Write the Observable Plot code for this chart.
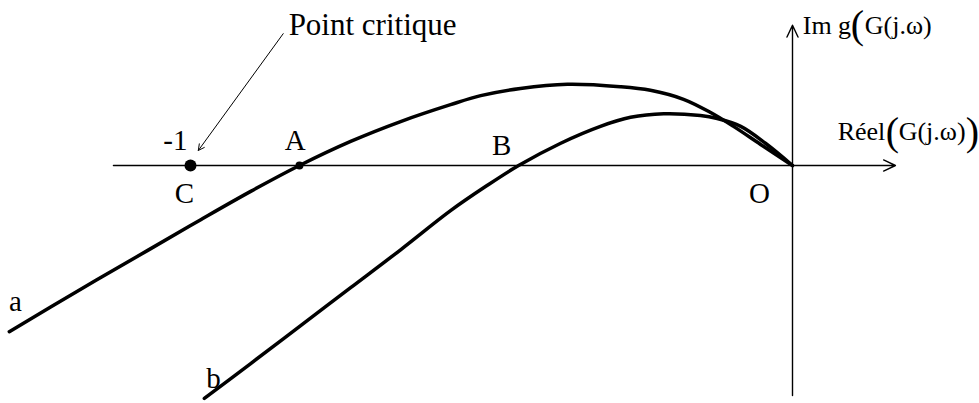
<!DOCTYPE html>
<html>
<head>
<meta charset="utf-8">
<script src="https://cdn.jsdelivr.net/npm/d3@7"></script>
<script src="https://cdn.jsdelivr.net/npm/@observablehq/plot@0.6"></script>
<style>
  html, body { margin: 0; padding: 0; background: #fff; }
  #chart svg { display: block; }
  #chart svg text { font-family: "Liberation Serif", "Times New Roman", serif !important; }
</style>
</head>
<body>
<div id="chart"></div>
<script>
// Nyquist sketch of two open-loop transfer functions G(jω), unit = distance O→C (-1)

// Curve a: crosses the real axis at A, to the right of the critical point
const curveAx = [-1.301, -1.183, -1.071, -0.983, -0.900, -0.819, -0.734, -0.651, -0.568, -0.518, -0.452, -0.374, -0.286, -0.236, -0.181, -0.136, -0.098, -0.053, 0];
const curveAy = [-0.276, -0.206, -0.141, -0.090, -0.043, 0, 0.040, 0.073, 0.101, 0.116, 0.128, 0.135, 0.131, 0.125, 0.110, 0.088, 0.065, 0.035, 0];

// Curve b: crosses the real axis at B, closer to the origin
const curveBx = [-0.977, -0.900, -0.817, -0.734, -0.651, -0.568, -0.510, -0.455, -0.385, -0.319, -0.269, -0.214, -0.153, -0.125, -0.086, -0.045, 0];
const curveBy = [-0.387, -0.329, -0.266, -0.203, -0.140, -0.075, -0.035, 0, 0.037, 0.065, 0.080, 0.086, 0.083, 0.078, 0.065, 0.037, 0];

// Marked points on the real axis: critical point C (-1) and crossing A
const criticalRe = -1;
const crossingARe = -0.819;

// Axis extents
const realAxis = [-1.128, 0.171];
const imagAxis = [-0.382, 0.233];

const toRows = (xs, ys) => xs.map((x, i) => ({x, y: ys[i]}));
const curveA = toRows(curveAx, curveAy);
const curveB = toRows(curveBx, curveBy);

const lbl = (text, x, y, opts = {}) =>
  Plot.text([{x, y}], {x: "x", y: "y", text: () => text, fontSize: 29,
    lineAnchor: "bottom", fill: "#000", ...opts});

const chart = Plot.plot({
  width: 979,
  height: 403,
  margin: 0,
  x: {domain: [-792 / 602, 187 / 602], axis: null},
  y: {domain: [-238 / 602, 165 / 602], axis: null},
  style: {background: "#fff"},
  marks: [
    // real and imaginary axes
    Plot.arrow([{x1: realAxis[0], x2: realAxis[1]}], {x1: "x1", x2: "x2", y1: 0, y2: 0,
      stroke: "#000", strokeWidth: 1.4, headLength: 14, headAngle: 50}),
    Plot.arrow([{y1: imagAxis[0], y2: imagAxis[1]}], {x1: 0, x2: 0, y1: "y1", y2: "y2",
      stroke: "#000", strokeWidth: 1.4, headLength: 14, headAngle: 50}),
    // the two Nyquist loci
    Plot.line(curveA, {x: "x", y: "y", curve: "catmull-rom", stroke: "#000", strokeWidth: 3.5}),
    Plot.line(curveB, {x: "x", y: "y", curve: "catmull-rom", stroke: "#000", strokeWidth: 3.5}),
    // critical point C and crossing A
    Plot.dot([{x: criticalRe, y: 0}], {x: "x", y: "y", r: 6, fill: "#000", stroke: null}),
    Plot.dot([{x: crossingARe, y: 0}], {x: "x", y: "y", r: 4, fill: "#000", stroke: null}),
    // pointer from the annotation to the critical point
    Plot.arrow([{x1: -0.846, y1: 0.219, x2: -0.987, y2: 0.025}], {x1: "x1", y1: "y1", x2: "x2", y2: "y2",
      stroke: "#000", strokeWidth: 1, headLength: 10, headAngle: 55}),
    // labels
    lbl("Point critique", -0.837, 0.216, {textAnchor: "start", fontSize: 31}),
    lbl("-1", -1.025, 0.025),
    lbl("A", -0.826, 0.025),
    lbl("C", -1.010, -0.063),
    lbl("B", -0.483, 0.017),
    lbl("O", -0.055, -0.063),
    lbl("a", -1.291, -0.241),
    lbl("b", -0.962, -0.370),
    // imaginary-axis title
    lbl("Im g", 0.017, 0.219, {textAnchor: "start", fontSize: 26}),
    lbl("(", 0.017, 0.211, {textAnchor: "start", fontSize: 40, dx: 48}),
    lbl("G(j.ω)", 0.017, 0.219, {textAnchor: "start", fontSize: 26, dx: 62}),
    // real-axis title
    lbl("Réel", 0.075, 0.042, {textAnchor: "start", fontSize: 26}),
    lbl("(", 0.075, 0.034, {textAnchor: "start", fontSize: 40, dx: 48}),
    lbl("G(j.ω)", 0.075, 0.042, {textAnchor: "start", fontSize: 26, dx: 61}),
    lbl(")", 0.075, 0.034, {textAnchor: "start", fontSize: 40, dx: 128})
  ]
});

document.getElementById("chart").append(chart);
</script>
</body>
</html>
